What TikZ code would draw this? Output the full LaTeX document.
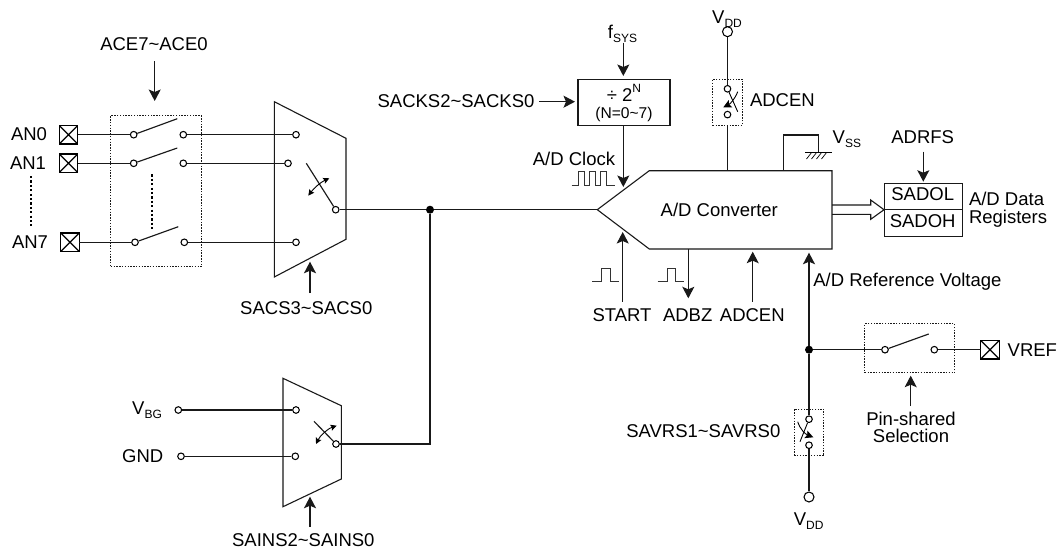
\documentclass[tikz,border=0pt]{standalone}
\usepackage{fontspec}
\setmainfont{Liberation Sans}
\usetikzlibrary{arrows.meta}
\newcommand{\lowtxt}[1]{\raisebox{-0.22em}{\fontsize{12}{12}\selectfont #1}}
\tikzset{
  wire/.style={line width=1.15pt,draw=black!90},
  shp/.style={line width=1.1pt,draw=black!90,line join=miter},
  arr/.style={wire,-{Stealth[length=11.5pt,width=12pt,inset=2.5pt]}},
  smallarr/.style={line width=0.9pt,draw=black,{Stealth[length=6pt,width=6pt,inset=1pt]}-{Stealth[length=6pt,width=6pt,inset=1pt]}},
  onearr/.style={line width=0.9pt,draw=black,-{Stealth[length=8pt,width=8pt,inset=1.5pt]}},
  contact/.style={circle,draw=black,fill=white,line width=1.05pt,minimum size=6.6pt,inner sep=0pt},
  rail/.style={circle,draw=black,fill=white,line width=1.05pt,minimum size=10pt,inner sep=0pt},
  dot/.style={circle,fill=black,minimum size=8pt,inner sep=0pt},
  lab/.style={inner sep=0pt,outer sep=0pt,text height=13.3pt,text depth=0pt,font=\fontsize{18.5}{20}\selectfont},
  smalllab/.style={inner sep=0pt,outer sep=0pt,text height=11.2pt,text depth=0pt,font=\fontsize{15.6}{17}\selectfont},
  dotbox/.style={draw=black!90,dash pattern=on 1.5pt off 1.3pt,line width=1pt,inner sep=0pt,outer sep=0pt},
  solidbox/.style={draw=black!90,line width=1.1pt,inner sep=0pt,outer sep=0pt},
  pad/.style={rectangle,draw=black,line width=1.3pt,fill=white,minimum size=18.4pt,inner sep=0pt,outer sep=0pt,
    path picture={\draw[line width=1.3pt] (path picture bounding box.north west)--(path picture bounding box.south east)
      (path picture bounding box.north east)--(path picture bounding box.south west);}},
  vdots/.style={line width=2pt,draw=black,dash pattern=on 2.2pt off 2.2pt},
  pulse/.style={line width=0.9pt,draw=black!80},
}
\begin{document}
\begin{tikzpicture}[x=1pt,y=-1pt]
\useasboundingbox (0,0) rectangle (1058,550);

% ---- boxes
\node[dotbox,minimum width=90.6pt,minimum height=151.3pt] (acebox) at (156,191.3) {};
\node[dotbox,minimum width=29.6pt,minimum height=46.3pt] (enbox) at (727.5,102.2) {};
\node[dotbox,minimum width=29.7pt,minimum height=46.7pt] (savbox) at (809,432.4) {};
\node[dotbox,minimum width=90pt,minimum height=48.7pt] (pinbox) at (909.7,348.3) {};

% ---- pads
\node[pad] (pa0) at (68.5,134.7) {};
\node[pad] (pa1) at (68.5,163.3) {};
\node[pad] (pa7) at (70,242.3) {};
\node[pad] (pref) at (990,349.7) {};

% ---- labels on the left
\node[lab] (an0) at (29,134) {AN0};
\node[lab] (an1) at (28,163) {AN1};
\node[lab] (an7) at (30,241.7) {AN7};
\node[lab] (ace) at (154,44) {ACE7\char`~ACE0};
\node[lab] (sacs) at (306.3,308) {SACS3\char`~SACS0};
\node[lab] (vbg) at (147,408) {V\lowtxt{BG}};
\node[lab] (gnd) at (142.7,456.3) {GND};
\node[lab] (sains) at (303.3,540) {SAINS2\char`~SAINS0};

% ---- contacts
\node[contact] (s0a) at (133.7,134.7) {};
\node[contact] (s0b) at (183.3,134.7) {};
\node[contact] (s1a) at (133.7,163.3) {};
\node[contact] (s1b) at (183.3,163.3) {};
\node[contact] (s7a) at (135,242.3) {};
\node[contact] (s7b) at (184.3,242.3) {};
\node[contact] (m0) at (296,134.7) {};
\node[contact] (m1) at (288,163.3) {};
\node[contact] (m7) at (296,242.3) {};
\node[contact] (mo) at (335.7,209.7) {};
\node[contact] (gbg) at (178.3,410) {};
\node[contact] (ggnd) at (181,456.3) {};
\node[contact] (n0) at (296,410) {};
\node[contact] (n1) at (295.3,456.3) {};
\node[contact] (no) at (336,444) {};
\node[dot] (j1) at (430,209.7) {};
\node[dot] (j2) at (809,349.7) {};
\node[rail] (vdd1) at (727.5,31.7) {};
\node[contact] (en1) at (727.5,88.8) {};
\node[contact] (en2) at (727.5,114.6) {};
\node[contact] (sv1) at (809,419.2) {};
\node[contact] (sv2) at (809,445.2) {};
\node[rail] (vdd2) at (809,497) {};
\node[contact] (p1) at (885,349.7) {};
\node[contact] (p2) at (934.3,349.7) {};

% ---- multiplexers
\draw[shp] (274.3,101.7) -- (346,138.3) -- (346,239.3) -- (274.3,277) -- cycle;
\draw[shp] (283,378.3) -- (341.3,405.7) -- (341.3,479) -- (283,506.7) -- cycle;

% ---- left wires
\draw[wire] (pa0) -- (s0a);
\draw[wire] (pa1) -- (s1a);
\draw[wire] (pa7) -- (s7a);
\draw[wire] (s0b) -- (m0);
\draw[wire] (s1b) -- (m1);
\draw[wire] (s7b) -- (m7);
\draw[wire] (gbg) -- (n0);
\draw[wire] (ggnd) -- (n1);
\coordinate (bl0) at (177.3,118.7);
\coordinate (bl1) at (177.3,148);
\coordinate (bl7) at (178.3,226.7);
\draw[wire] (s0a) -- (bl0);
\draw[wire] (s1a) -- (bl1);
\draw[wire] (s7a) -- (bl7);
\coordinate (gang1) at (152,174.3);
\coordinate (gang2) at (152,231);
\draw[vdots] (gang1) -- (gang2);
\coordinate (pins1) at (31,176);
\coordinate (pins2) at (31,226);
\draw[vdots] (pins1) -- (pins2);
\coordinate (acefrom) at (154.7,61);
\coordinate (aceto) at (154.7,101);
\draw[arr] (acefrom) -- (aceto);

% ---- mux blades and selectors
\coordinate (mbl) at (306.3,163.3);
\draw[wire] (mo) -- (mbl);
\draw[smallarr] (308.3,195.7) .. controls (314,188) and (321,182) .. (329.3,178.3);
\coordinate (nbl) at (314,421.3);
\draw[wire] (no) -- (nbl);
\draw[smallarr] (316,444) .. controls (320,436) and (327,429) .. (336.7,425.7);
\coordinate (sacsfrom) at (310,293);
\coordinate (sacsto) at (310,261.7);
\draw[arr] (sacsfrom) -- (sacsto);
\coordinate (sainsfrom) at (310,526.7);
\coordinate (sainsto) at (310,496.7);
\draw[arr] (sainsfrom) -- (sainsto);

% ---- A/D converter
\draw[shp] (597.3,209.7) -- (649.3,170.7) -- (832,170.7) -- (832,249) -- (649.3,249) -- cycle;
\node[lab] (adc) at (719.3,210) {A/D Converter};
\coordinate (tip) at (597.3,209.7);
\draw[wire] (mo) -- (j1);
\draw[wire] (j1) -- (tip);
\draw[wire] (no) -| (j1);

% ---- clock divider
\node[solidbox,minimum width=92pt,minimum height=46.3pt] (divbox) at (624,102.2) {};
\node[lab] (divtxt) at (624,94.5) {÷ 2\raisebox{0.48em}{\fontsize{12}{12}\selectfont N}};
\node[smalllab] (divn) at (624,113.3) {(N=0\char`~7)};
\node[lab] (fsys) at (622.5,31.5) {f\lowtxt{SYS}};
\coordinate (fa) at (623.3,42.7);
\coordinate (fb) at (623.3,76);
\draw[arr] (fa) -- (fb);
\node[lab] (sacks) at (456,101) {SACKS2\char`~SACKS0};
\coordinate (sa) at (539,101.7);
\coordinate (sb) at (575,101.7);
\draw[arr] (sa) -- (sb);
\coordinate (cka) at (623.3,125.3);
\coordinate (ckb) at (623.3,187);
\draw[arr] (cka) -- (ckb);
\node[lab] (ckl) at (574,158.7) {A/D Clock};
\draw[pulse] (571.7,185) -- (578.3,185) -- (578.3,171.7) -- (584.2,171.7) -- (584.2,185) -- (589.5,185) -- (589.5,171.7) -- (595.2,171.7) -- (595.2,185) -- (600.8,185) -- (600.8,171.7) -- (606.8,171.7) -- (606.8,185) -- (615,185);

% ---- ADCEN switch
\node[lab] (vddl1) at (727,16.5) {V\lowtxt{DD}};
\draw[wire] (vdd1) -- (en1);
\coordinate (enb) at (727.5,125.3);
\coordinate (ent) at (727.5,170.7);
\draw[wire] (enb) -- (ent);
\draw[line width=0.9pt] (en1) -- (737.7,111.7);
\draw[onearr] (737.7,91.7) .. controls (735,99) and (730,104) .. (723.3,107.3);
\node[lab,anchor=west] (enl) at (750,99.5) {ADCEN};

% ---- VSS
\coordinate (ssa) at (783.7,170.7);
\coordinate (ssb) at (818.3,135);
\coordinate (ssc) at (818.3,152.3);
\draw[wire] (ssa) |- (ssb) -- (ssc);
\draw[line width=1pt] (805,152.3) -- (831.7,152.3);
\draw[line width=0.7pt] (811.7,152.3) -- (806.5,159) (816.7,152.3) -- (811.5,159) (821.7,152.3) -- (816.5,159) (826.7,152.3) -- (821.5,159);
\node[lab,anchor=west] (vss) at (832.7,136.7) {V\lowtxt{SS}};

% ---- data registers
\node[solidbox,minimum width=78.3pt,minimum height=52.7pt] (regbox) at (923.2,209.7) {};
\draw[wire] (regbox.west) -- (regbox.east);
\node[lab] (sadol) at (922.7,194) {SADOL};
\node[lab] (sadoh) at (922.7,220.7) {SADOH};
\node[lab] (adrfs) at (922.7,136.7) {ADRFS};
\coordinate (ra) at (923.3,151.7);
\coordinate (rb) at (923.3,181.7);
\draw[arr] (ra) -- (rb);
\draw[shp] (832,205) -- (870.7,205) -- (870.7,200) -- (regbox.west) -- (870.7,219.3) -- (870.7,214.3) -- (832,214.3);
\node[lab,anchor=west] (rg1) at (969,199.3) {A/D Data};
\node[lab,anchor=west] (rg2) at (969,217.3) {Registers};

% ---- arrows under the converter
\coordinate (sta) at (622.7,301.7);
\coordinate (stb) at (622.7,232);
\draw[arr] (sta) -- (stb);
\node[lab] (stl) at (622,315) {START};
\draw[pulse] (592.3,281.7) -- (601.7,281.7) -- (601.7,268.3) -- (610,268.3) -- (610,281.7) -- (619,281.7);
\coordinate (bza) at (688.3,249);
\coordinate (bzb) at (688.3,298.3);
\draw[arr] (bza) -- (bzb);
\node[lab] (bzl) at (687.7,315) {ADBZ};
\draw[pulse] (657.7,281.7) -- (667,281.7) -- (667,268.3) -- (675.3,268.3) -- (675.3,281.7) -- (684,281.7);
\coordinate (ena) at (752.7,301.7);
\coordinate (enc) at (752.7,251.7);
\draw[arr] (ena) -- (enc);
\node[lab] (enl2) at (752.3,315) {ADCEN};

% ---- reference
\coordinate (rfb) at (809,252.7);
\draw[arr] (j2) -- (rfb);
\node[lab,anchor=west] (rfl) at (813.3,280) {A/D Reference Voltage};
\draw[wire] (j2) -- (sv1);
\draw[wire] (sv2) -- (vdd2);
\draw[line width=0.9pt] (sv1) -- (800,441.7);
\draw[onearr] (797.7,421.7) .. controls (800,429) and (805,434) .. (813.3,437.3);
\node[lab] (savl) at (703.3,430.7) {SAVRS1\char`~SAVRS0};
\node[lab] (vddl2) at (808.7,518.7) {V\lowtxt{DD}};
\draw[wire] (j2) -- (p1);
\draw[wire] (p2) -- (pref);
\coordinate (pbl) at (928.7,334);
\draw[wire] (p1) -- (pbl);
\node[lab,anchor=west] (vref) at (1007.7,350) {VREF};
\coordinate (psa) at (910.7,406);
\coordinate (psb) at (910.7,375.7);
\draw[arr] (psa) -- (psb);
\node[lab] (ps1) at (911,419) {Pin-shared};
\node[lab] (ps2) at (911,436) {Selection};
\end{tikzpicture}
\end{document}
